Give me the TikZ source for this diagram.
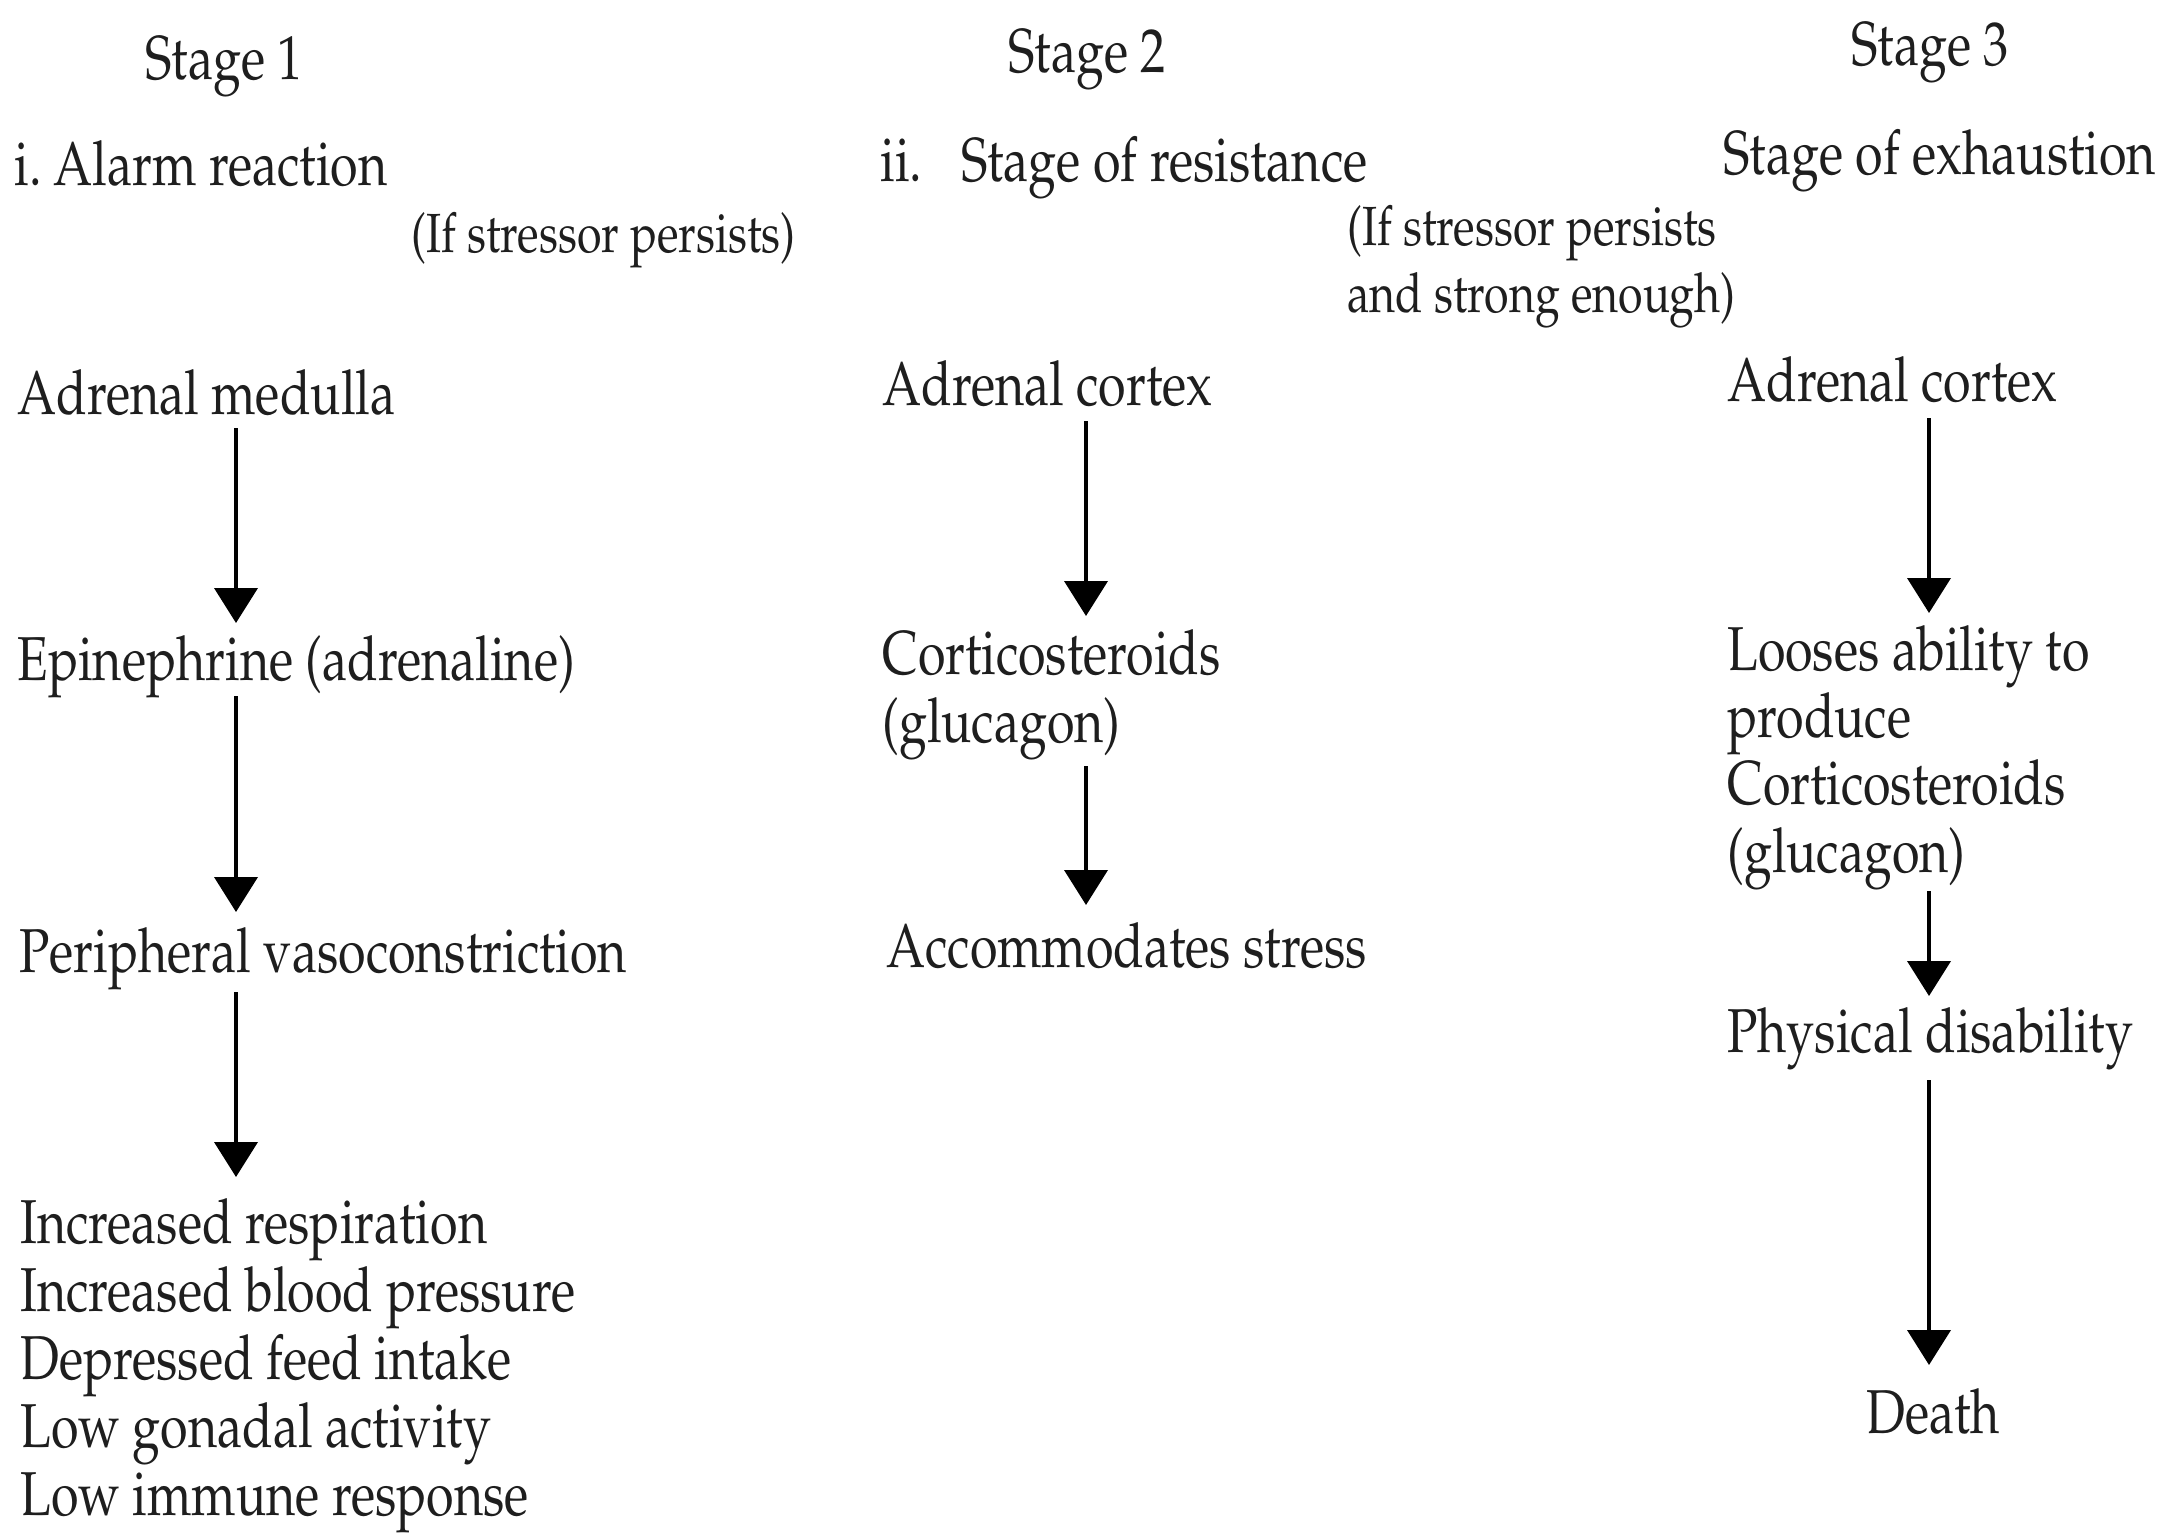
\documentclass[tikz,border=0pt]{standalone}
\usepackage[T1]{fontenc}
\usepackage{mathpazo}
\usepackage{graphicx}
\usetikzlibrary{arrows.meta}

% narrow setting of the Palatino face
\newcommand\cmp[1]{\scalebox{0.81}[1]{#1}}
% several lines stacked, baseline on the first line
\newcommand\lns[2]{\vtop{\baselineskip=#1\lineskiplimit=-100pt #2}}

\definecolor{ink}{HTML}{1E1E1E}

\tikzset{
  lbl/.style={anchor=base west, inner sep=0pt, text=ink,
              font=\fontsize{31}{34}\selectfont},
  note/.style={lbl, font=\fontsize{27.6}{33.5}\selectfont},
  flow/.style={-{Triangle[length=17.5pt,width=21.5pt]}, line width=2pt, draw=black},
}

\begin{document}
\begin{tikzpicture}[x=0.5pt, y=-0.5pt]
\useasboundingbox (0,0) rectangle (2184,1532);

% column axes for the arrows
\coordinate (k1) at (236,0);
\coordinate (k2) at (1086,0);
\coordinate (k3) at (1929,0);

% headings
\node[lbl] (head1) at (145,79) {\cmp{Stage 1}};
\node[lbl] (head2) at (1008,72) {\cmp{Stage 2}};
\node[lbl] (head3) at (1851,65) {\cmp{Stage 3}};

\node[lbl] (phase1) at (14,185) {\cmp{i.\hspace{-2pt} Alarm reaction}};
\node[lbl] (phase2) at (880,181) {\cmp{ii.\hspace{24pt}Stage of resistance}};
\node[lbl] (phase3) at (1723,174) {\cmp{Stage of exhaustion}};

\node[note] (cond1) at (411,252) {\cmp{(If stressor persists)}};
\node[note] (cond2) at (1347,245) {\cmp{\lns{33.5pt}{\hbox{(If stressor persists}\hbox{and strong enough)}}}};

% stage 1: alarm reaction
\node[lbl] (medulla) at (17,414) {\cmp{Adrenal medulla}};
\node[lbl] (epi) at (17,680) {\cmp{Epinephrine (adrenaline)}};
\node[lbl] (peri) at (19,972) {\cmp{Peripheral vasoconstriction}};
\node[lbl] (effects) at (20,1243) {\cmp{\lns{34pt}{%
  \hbox{Increased respiration}
  \hbox{Increased blood pressure}
  \hbox{Depressed feed intake}
  \hbox{Low gonadal activity}
  \hbox{Low immune response}}}};

% stage 2: resistance
\node[lbl] (cortexB) at (882,405) {\cmp{Adrenal cortex}};
\node[lbl] (cortB) at (882,674) {\cmp{\lns{34pt}{\hbox{Corticosteroids}\hbox{(glucagon)}}}};
\node[lbl] (accom) at (886,967) {\cmp{Accommodates stress}};

% stage 3: exhaustion
\node[lbl] (cortexC) at (1727,401) {\cmp{Adrenal cortex}};
\node[lbl] (loses) at (1727,670) {\cmp{\lns{33.7pt}{%
  \hbox{Looses ability to}
  \hbox{produce}
  \hbox{Corticosteroids}
  \hbox{(glucagon)}}}};
\node[lbl] (phys) at (1727,1052) {\cmp{Physical disability}};
\node[lbl, anchor=base] (death) at (1933,1433) {\cmp{Death}};

% connectors
\draw[flow] ([yshift=-7pt]medulla.base -| k1) -- ([yshift=28.5pt]epi.base -| k1);
\draw[flow] ([yshift=-8pt]epi.base -| k1) -- ([yshift=30pt]peri.base -| k1);
\draw[flow] ([yshift=-10pt]peri.base -| k1) -- ([yshift=33pt]effects.base -| k1);

\draw[flow] ([yshift=-8pt]cortexB.base -| k2) -- ([yshift=29pt]cortB.base -| k2);
\draw[flow] ([yshift=-46pt]cortB.base -| k2) -- ([yshift=31pt]accom.base -| k2);

\draw[flow] ([yshift=-8.5pt]cortexC.base -| k3) -- ([yshift=28.5pt]loses.base -| k3);
\draw[flow] ([yshift=-110.5pt]loses.base -| k3) -- ([yshift=28pt]phys.base -| k3);
\draw[flow] ([yshift=-14pt]phys.base -| k3) -- ([yshift=34pt]death.base -| k3);
\end{tikzpicture}
\end{document}
